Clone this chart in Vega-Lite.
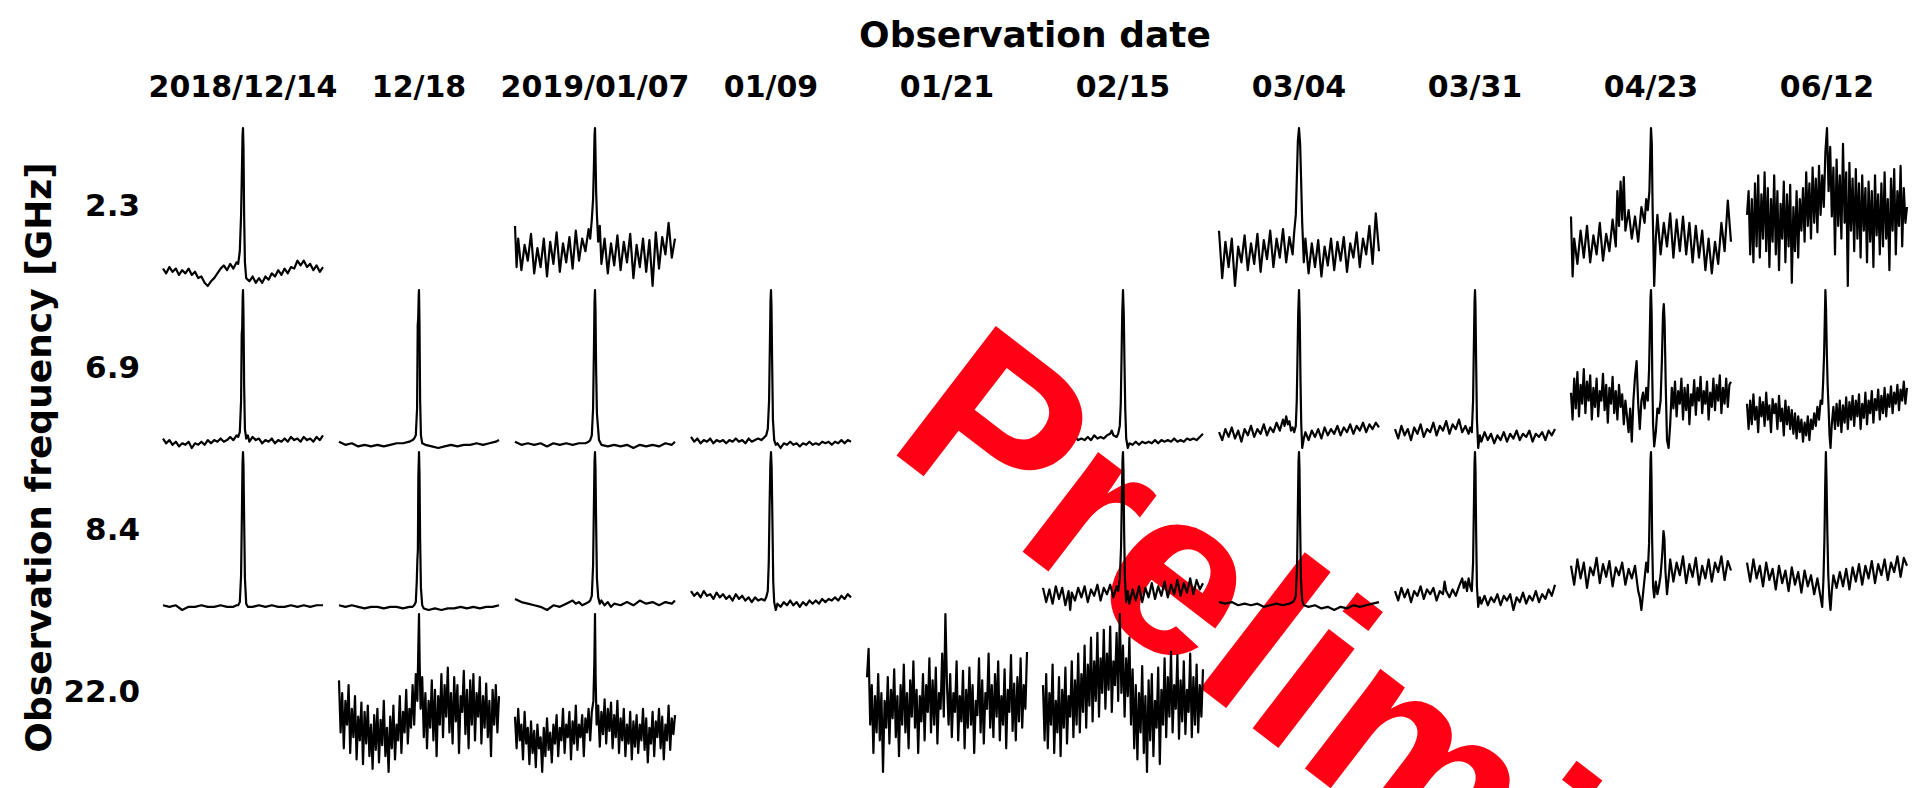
{
"$schema":"https://vega.github.io/schema/vega-lite/v6.json",
"padding":{"left":21,"top":18,"right":0,"bottom":0},
"background":"white",
"bounds":"flush",
"config":{"view":{"stroke":null}},
"spacing":{"row":4,"column":16},
"data":{"values":[
{"c":5,"r":1,"x":-99.3,"y":1.5,"t":"Preliminary"},
{"c":0,"r":0,"x":0,"y":11},{"c":0,"r":0,"x":2,"y":8},{"c":0,"r":0,"x":4,"y":12},{"c":0,"r":0,"x":6,"y":9},{"c":0,"r":0,"x":8,"y":11},{"c":0,"r":0,"x":10,"y":7},{"c":0,"r":0,"x":12,"y":10},{"c":0,"r":0,"x":14,"y":8},{"c":0,"r":0,"x":16,"y":11},{"c":0,"r":0,"x":18,"y":7},{"c":0,"r":0,"x":20,"y":9},{"c":0,"r":0,"x":22,"y":5},{"c":0,"r":0,"x":24,"y":6},{"c":0,"r":0,"x":26,"y":2},{"c":0,"r":0,"x":28,"y":0},{"c":0,"r":0,"x":30,"y":3},{"c":0,"r":0,"x":32,"y":5},{"c":0,"r":0,"x":34,"y":8},{"c":0,"r":0,"x":36,"y":11},{"c":0,"r":0,"x":38,"y":13},{"c":0,"r":0,"x":40,"y":10},{"c":0,"r":0,"x":42,"y":14},{"c":0,"r":0,"x":44,"y":11},{"c":0,"r":0,"x":46,"y":15},{"c":0,"r":0,"x":47,"y":14},{"c":0,"r":0,"x":48,"y":22},{"c":0,"r":0,"x":48.8,"y":45},{"c":0,"r":0,"x":49.3,"y":72},{"c":0,"r":0,"x":49.7,"y":95},{"c":0,"r":0,"x":50,"y":100},{"c":0,"r":0,"x":50.3,"y":88},{"c":0,"r":0,"x":50.7,"y":45},{"c":0,"r":0,"x":51.2,"y":15},{"c":0,"r":0,"x":52,"y":5},{"c":0,"r":0,"x":54,"y":3},{"c":0,"r":0,"x":56,"y":6},{"c":0,"r":0,"x":58,"y":2},{"c":0,"r":0,"x":60,"y":5},{"c":0,"r":0,"x":62,"y":2},{"c":0,"r":0,"x":64,"y":6},{"c":0,"r":0,"x":66,"y":4},{"c":0,"r":0,"x":68,"y":8},{"c":0,"r":0,"x":70,"y":6},{"c":0,"r":0,"x":72,"y":10},{"c":0,"r":0,"x":74,"y":7},{"c":0,"r":0,"x":76,"y":11},{"c":0,"r":0,"x":78,"y":8},{"c":0,"r":0,"x":80,"y":12},{"c":0,"r":0,"x":82,"y":11},{"c":0,"r":0,"x":84,"y":16},{"c":0,"r":0,"x":86,"y":13},{"c":0,"r":0,"x":88,"y":16},{"c":0,"r":0,"x":90,"y":12},{"c":0,"r":0,"x":92,"y":14},{"c":0,"r":0,"x":94,"y":10},{"c":0,"r":0,"x":96,"y":13},{"c":0,"r":0,"x":98,"y":9},{"c":0,"r":0,"x":100,"y":12},
{"c":2,"r":0,"x":0,"y":38},{"c":2,"r":0,"x":1,"y":12},{"c":2,"r":0,"x":2,"y":30},{"c":2,"r":0,"x":4,"y":10},{"c":2,"r":0,"x":6,"y":26},{"c":2,"r":0,"x":8,"y":16},{"c":2,"r":0,"x":10,"y":33},{"c":2,"r":0,"x":12,"y":8},{"c":2,"r":0,"x":14,"y":24},{"c":2,"r":0,"x":16,"y":12},{"c":2,"r":0,"x":18,"y":30},{"c":2,"r":0,"x":20,"y":6},{"c":2,"r":0,"x":22,"y":28},{"c":2,"r":0,"x":24,"y":14},{"c":2,"r":0,"x":26,"y":34},{"c":2,"r":0,"x":28,"y":9},{"c":2,"r":0,"x":30,"y":27},{"c":2,"r":0,"x":32,"y":15},{"c":2,"r":0,"x":34,"y":31},{"c":2,"r":0,"x":36,"y":11},{"c":2,"r":0,"x":38,"y":35},{"c":2,"r":0,"x":40,"y":16},{"c":2,"r":0,"x":42,"y":30},{"c":2,"r":0,"x":44,"y":22},{"c":2,"r":0,"x":46,"y":36},{"c":2,"r":0,"x":47,"y":30},{"c":2,"r":0,"x":48,"y":42},{"c":2,"r":0,"x":48.8,"y":55},{"c":2,"r":0,"x":49.3,"y":75},{"c":2,"r":0,"x":49.7,"y":95},{"c":2,"r":0,"x":50,"y":100},{"c":2,"r":0,"x":50.3,"y":85},{"c":2,"r":0,"x":50.7,"y":60},{"c":2,"r":0,"x":51.2,"y":45},{"c":2,"r":0,"x":52,"y":28},{"c":2,"r":0,"x":53,"y":38},{"c":2,"r":0,"x":54,"y":14},{"c":2,"r":0,"x":56,"y":30},{"c":2,"r":0,"x":58,"y":8},{"c":2,"r":0,"x":60,"y":27},{"c":2,"r":0,"x":62,"y":13},{"c":2,"r":0,"x":64,"y":32},{"c":2,"r":0,"x":66,"y":10},{"c":2,"r":0,"x":68,"y":28},{"c":2,"r":0,"x":70,"y":15},{"c":2,"r":0,"x":72,"y":33},{"c":2,"r":0,"x":74,"y":5},{"c":2,"r":0,"x":76,"y":26},{"c":2,"r":0,"x":78,"y":12},{"c":2,"r":0,"x":80,"y":30},{"c":2,"r":0,"x":82,"y":9},{"c":2,"r":0,"x":84,"y":29},{"c":2,"r":0,"x":86,"y":0},{"c":2,"r":0,"x":88,"y":34},{"c":2,"r":0,"x":90,"y":11},{"c":2,"r":0,"x":92,"y":31},{"c":2,"r":0,"x":94,"y":20},{"c":2,"r":0,"x":96,"y":40},{"c":2,"r":0,"x":98,"y":18},{"c":2,"r":0,"x":100,"y":30},
{"c":6,"r":0,"x":0,"y":35},{"c":6,"r":0,"x":2,"y":5},{"c":6,"r":0,"x":4,"y":28},{"c":6,"r":0,"x":6,"y":12},{"c":6,"r":0,"x":8,"y":30},{"c":6,"r":0,"x":10,"y":0},{"c":6,"r":0,"x":12,"y":25},{"c":6,"r":0,"x":14,"y":15},{"c":6,"r":0,"x":16,"y":32},{"c":6,"r":0,"x":18,"y":10},{"c":6,"r":0,"x":20,"y":27},{"c":6,"r":0,"x":22,"y":14},{"c":6,"r":0,"x":24,"y":33},{"c":6,"r":0,"x":26,"y":9},{"c":6,"r":0,"x":28,"y":29},{"c":6,"r":0,"x":30,"y":17},{"c":6,"r":0,"x":32,"y":35},{"c":6,"r":0,"x":34,"y":12},{"c":6,"r":0,"x":36,"y":30},{"c":6,"r":0,"x":38,"y":18},{"c":6,"r":0,"x":40,"y":36},{"c":6,"r":0,"x":42,"y":15},{"c":6,"r":0,"x":44,"y":31},{"c":6,"r":0,"x":46,"y":20},{"c":6,"r":0,"x":47,"y":34},{"c":6,"r":0,"x":48,"y":45},{"c":6,"r":0,"x":48.7,"y":70},{"c":6,"r":0,"x":49.3,"y":92},{"c":6,"r":0,"x":50,"y":100},{"c":6,"r":0,"x":50.7,"y":90},{"c":6,"r":0,"x":51.3,"y":68},{"c":6,"r":0,"x":52,"y":40},{"c":6,"r":0,"x":53,"y":15},{"c":6,"r":0,"x":54,"y":30},{"c":6,"r":0,"x":56,"y":8},{"c":6,"r":0,"x":58,"y":27},{"c":6,"r":0,"x":60,"y":12},{"c":6,"r":0,"x":62,"y":29},{"c":6,"r":0,"x":64,"y":6},{"c":6,"r":0,"x":66,"y":25},{"c":6,"r":0,"x":68,"y":13},{"c":6,"r":0,"x":70,"y":30},{"c":6,"r":0,"x":72,"y":10},{"c":6,"r":0,"x":74,"y":28},{"c":6,"r":0,"x":76,"y":16},{"c":6,"r":0,"x":78,"y":31},{"c":6,"r":0,"x":80,"y":9},{"c":6,"r":0,"x":82,"y":27},{"c":6,"r":0,"x":84,"y":18},{"c":6,"r":0,"x":86,"y":34},{"c":6,"r":0,"x":88,"y":12},{"c":6,"r":0,"x":90,"y":30},{"c":6,"r":0,"x":92,"y":20},{"c":6,"r":0,"x":94,"y":38},{"c":6,"r":0,"x":96,"y":14},{"c":6,"r":0,"x":98,"y":46},{"c":6,"r":0,"x":100,"y":22},
{"c":8,"r":0,"x":0,"y":44},{"c":8,"r":0,"x":1,"y":6},{"c":8,"r":0,"x":2,"y":30},{"c":8,"r":0,"x":4,"y":14},{"c":8,"r":0,"x":6,"y":35},{"c":8,"r":0,"x":8,"y":18},{"c":8,"r":0,"x":10,"y":38},{"c":8,"r":0,"x":12,"y":15},{"c":8,"r":0,"x":14,"y":32},{"c":8,"r":0,"x":16,"y":20},{"c":8,"r":0,"x":18,"y":40},{"c":8,"r":0,"x":20,"y":16},{"c":8,"r":0,"x":22,"y":33},{"c":8,"r":0,"x":24,"y":22},{"c":8,"r":0,"x":26,"y":42},{"c":8,"r":0,"x":28,"y":25},{"c":8,"r":0,"x":29,"y":60},{"c":8,"r":0,"x":30,"y":38},{"c":8,"r":0,"x":31,"y":66},{"c":8,"r":0,"x":32,"y":42},{"c":8,"r":0,"x":33,"y":69},{"c":8,"r":0,"x":34,"y":35},{"c":8,"r":0,"x":36,"y":48},{"c":8,"r":0,"x":38,"y":30},{"c":8,"r":0,"x":40,"y":44},{"c":8,"r":0,"x":42,"y":28},{"c":8,"r":0,"x":44,"y":50},{"c":8,"r":0,"x":46,"y":40},{"c":8,"r":0,"x":47,"y":55},{"c":8,"r":0,"x":48,"y":48},{"c":8,"r":0,"x":49,"y":60},{"c":8,"r":0,"x":49.6,"y":85},{"c":8,"r":0,"x":50,"y":100},{"c":8,"r":0,"x":50.5,"y":90},{"c":8,"r":0,"x":51,"y":50},{"c":8,"r":0,"x":51.5,"y":25},{"c":8,"r":0,"x":52,"y":0},{"c":8,"r":0,"x":53,"y":30},{"c":8,"r":0,"x":54,"y":45},{"c":8,"r":0,"x":56,"y":20},{"c":8,"r":0,"x":58,"y":40},{"c":8,"r":0,"x":60,"y":25},{"c":8,"r":0,"x":62,"y":46},{"c":8,"r":0,"x":64,"y":18},{"c":8,"r":0,"x":66,"y":42},{"c":8,"r":0,"x":68,"y":22},{"c":8,"r":0,"x":70,"y":44},{"c":8,"r":0,"x":72,"y":20},{"c":8,"r":0,"x":74,"y":40},{"c":8,"r":0,"x":76,"y":15},{"c":8,"r":0,"x":78,"y":38},{"c":8,"r":0,"x":80,"y":18},{"c":8,"r":0,"x":82,"y":35},{"c":8,"r":0,"x":84,"y":10},{"c":8,"r":0,"x":86,"y":30},{"c":8,"r":0,"x":88,"y":8},{"c":8,"r":0,"x":90,"y":28},{"c":8,"r":0,"x":92,"y":14},{"c":8,"r":0,"x":94,"y":40},{"c":8,"r":0,"x":96,"y":22},{"c":8,"r":0,"x":98,"y":54},{"c":8,"r":0,"x":100,"y":28},
{"c":9,"r":0,"x":0,"y":45},{"c":9,"r":0,"x":1,"y":60},{"c":9,"r":0,"x":2,"y":20},{"c":9,"r":0,"x":3,"y":55},{"c":9,"r":0,"x":4,"y":15},{"c":9,"r":0,"x":5,"y":65},{"c":9,"r":0,"x":6,"y":25},{"c":9,"r":0,"x":7,"y":70},{"c":9,"r":0,"x":8,"y":18},{"c":9,"r":0,"x":9,"y":58},{"c":9,"r":0,"x":10,"y":30},{"c":9,"r":0,"x":11,"y":72},{"c":9,"r":0,"x":12,"y":22},{"c":9,"r":0,"x":13,"y":62},{"c":9,"r":0,"x":14,"y":12},{"c":9,"r":0,"x":15,"y":55},{"c":9,"r":0,"x":16,"y":28},{"c":9,"r":0,"x":17,"y":70},{"c":9,"r":0,"x":18,"y":20},{"c":9,"r":0,"x":19,"y":60},{"c":9,"r":0,"x":20,"y":10},{"c":9,"r":0,"x":21,"y":52},{"c":9,"r":0,"x":22,"y":30},{"c":9,"r":0,"x":23,"y":66},{"c":9,"r":0,"x":24,"y":15},{"c":9,"r":0,"x":25,"y":58},{"c":9,"r":0,"x":26,"y":25},{"c":9,"r":0,"x":27,"y":64},{"c":9,"r":0,"x":28,"y":2},{"c":9,"r":0,"x":29,"y":50},{"c":9,"r":0,"x":30,"y":22},{"c":9,"r":0,"x":31,"y":60},{"c":9,"r":0,"x":32,"y":18},{"c":9,"r":0,"x":33,"y":55},{"c":9,"r":0,"x":34,"y":35},{"c":9,"r":0,"x":35,"y":62},{"c":9,"r":0,"x":36,"y":28},{"c":9,"r":0,"x":37,"y":72},{"c":9,"r":0,"x":38,"y":38},{"c":9,"r":0,"x":39,"y":65},{"c":9,"r":0,"x":40,"y":30},{"c":9,"r":0,"x":41,"y":75},{"c":9,"r":0,"x":42,"y":40},{"c":9,"r":0,"x":43,"y":68},{"c":9,"r":0,"x":44,"y":34},{"c":9,"r":0,"x":45,"y":76},{"c":9,"r":0,"x":46,"y":45},{"c":9,"r":0,"x":47,"y":70},{"c":9,"r":0,"x":48,"y":50},{"c":9,"r":0,"x":49,"y":85},{"c":9,"r":0,"x":50,"y":100},{"c":9,"r":0,"x":51,"y":60},{"c":9,"r":0,"x":52,"y":88},{"c":9,"r":0,"x":53,"y":44},{"c":9,"r":0,"x":54,"y":75},{"c":9,"r":0,"x":55,"y":20},{"c":9,"r":0,"x":56,"y":80},{"c":9,"r":0,"x":57,"y":38},{"c":9,"r":0,"x":58,"y":70},{"c":9,"r":0,"x":59,"y":30},{"c":9,"r":0,"x":60,"y":90},{"c":9,"r":0,"x":61,"y":40},{"c":9,"r":0,"x":62,"y":72},{"c":9,"r":0,"x":63,"y":0},{"c":9,"r":0,"x":64,"y":78},{"c":9,"r":0,"x":65,"y":35},{"c":9,"r":0,"x":66,"y":68},{"c":9,"r":0,"x":67,"y":22},{"c":9,"r":0,"x":68,"y":74},{"c":9,"r":0,"x":69,"y":30},{"c":9,"r":0,"x":70,"y":65},{"c":9,"r":0,"x":71,"y":18},{"c":9,"r":0,"x":72,"y":70},{"c":9,"r":0,"x":73,"y":35},{"c":9,"r":0,"x":74,"y":62},{"c":9,"r":0,"x":75,"y":15},{"c":9,"r":0,"x":76,"y":66},{"c":9,"r":0,"x":77,"y":28},{"c":9,"r":0,"x":78,"y":60},{"c":9,"r":0,"x":79,"y":12},{"c":9,"r":0,"x":80,"y":70},{"c":9,"r":0,"x":81,"y":32},{"c":9,"r":0,"x":82,"y":58},{"c":9,"r":0,"x":83,"y":20},{"c":9,"r":0,"x":84,"y":65},{"c":9,"r":0,"x":85,"y":25},{"c":9,"r":0,"x":86,"y":72},{"c":9,"r":0,"x":87,"y":30},{"c":9,"r":0,"x":88,"y":55},{"c":9,"r":0,"x":89,"y":10},{"c":9,"r":0,"x":90,"y":68},{"c":9,"r":0,"x":91,"y":35},{"c":9,"r":0,"x":92,"y":74},{"c":9,"r":0,"x":93,"y":20},{"c":9,"r":0,"x":94,"y":60},{"c":9,"r":0,"x":95,"y":38},{"c":9,"r":0,"x":96,"y":76},{"c":9,"r":0,"x":97,"y":25},{"c":9,"r":0,"x":98,"y":62},{"c":9,"r":0,"x":99,"y":40},{"c":9,"r":0,"x":100,"y":50},
{"c":0,"r":1,"x":0,"y":6},{"c":0,"r":1,"x":2,"y":3},{"c":0,"r":1,"x":4,"y":5},{"c":0,"r":1,"x":6,"y":2},{"c":0,"r":1,"x":8,"y":4},{"c":0,"r":1,"x":10,"y":1},{"c":0,"r":1,"x":12,"y":3},{"c":0,"r":1,"x":14,"y":2},{"c":0,"r":1,"x":16,"y":4},{"c":0,"r":1,"x":18,"y":0},{"c":0,"r":1,"x":20,"y":3},{"c":0,"r":1,"x":22,"y":2},{"c":0,"r":1,"x":24,"y":4},{"c":0,"r":1,"x":26,"y":2},{"c":0,"r":1,"x":28,"y":5},{"c":0,"r":1,"x":30,"y":3},{"c":0,"r":1,"x":32,"y":5},{"c":0,"r":1,"x":34,"y":4},{"c":0,"r":1,"x":36,"y":6},{"c":0,"r":1,"x":38,"y":4},{"c":0,"r":1,"x":40,"y":5},{"c":0,"r":1,"x":42,"y":7},{"c":0,"r":1,"x":44,"y":5},{"c":0,"r":1,"x":46,"y":8},{"c":0,"r":1,"x":47,"y":7},{"c":0,"r":1,"x":48,"y":10},{"c":0,"r":1,"x":48.8,"y":30},{"c":0,"r":1,"x":49.2,"y":72},{"c":0,"r":1,"x":49.5,"y":76},{"c":0,"r":1,"x":49.8,"y":95},{"c":0,"r":1,"x":50,"y":100},{"c":0,"r":1,"x":50.3,"y":85},{"c":0,"r":1,"x":50.7,"y":40},{"c":0,"r":1,"x":51.2,"y":12},{"c":0,"r":1,"x":52,"y":6},{"c":0,"r":1,"x":53,"y":8},{"c":0,"r":1,"x":54,"y":4},{"c":0,"r":1,"x":56,"y":7},{"c":0,"r":1,"x":58,"y":5},{"c":0,"r":1,"x":60,"y":6},{"c":0,"r":1,"x":62,"y":3},{"c":0,"r":1,"x":64,"y":5},{"c":0,"r":1,"x":66,"y":4},{"c":0,"r":1,"x":68,"y":6},{"c":0,"r":1,"x":70,"y":3},{"c":0,"r":1,"x":72,"y":5},{"c":0,"r":1,"x":74,"y":4},{"c":0,"r":1,"x":76,"y":6},{"c":0,"r":1,"x":78,"y":4},{"c":0,"r":1,"x":80,"y":7},{"c":0,"r":1,"x":82,"y":5},{"c":0,"r":1,"x":84,"y":6},{"c":0,"r":1,"x":86,"y":4},{"c":0,"r":1,"x":88,"y":7},{"c":0,"r":1,"x":90,"y":5},{"c":0,"r":1,"x":92,"y":6},{"c":0,"r":1,"x":94,"y":4},{"c":0,"r":1,"x":96,"y":7},{"c":0,"r":1,"x":98,"y":5},{"c":0,"r":1,"x":100,"y":8},
{"c":1,"r":1,"x":0,"y":4},{"c":1,"r":1,"x":4,"y":2},{"c":1,"r":1,"x":8,"y":3},{"c":1,"r":1,"x":12,"y":1},{"c":1,"r":1,"x":16,"y":2},{"c":1,"r":1,"x":20,"y":1},{"c":1,"r":1,"x":24,"y":2},{"c":1,"r":1,"x":28,"y":1},{"c":1,"r":1,"x":32,"y":2},{"c":1,"r":1,"x":36,"y":3},{"c":1,"r":1,"x":40,"y":3},{"c":1,"r":1,"x":44,"y":4},{"c":1,"r":1,"x":46,"y":5},{"c":1,"r":1,"x":47,"y":6},{"c":1,"r":1,"x":48,"y":8},{"c":1,"r":1,"x":48.8,"y":25},{"c":1,"r":1,"x":49.2,"y":78},{"c":1,"r":1,"x":49.5,"y":82},{"c":1,"r":1,"x":49.8,"y":96},{"c":1,"r":1,"x":50,"y":100},{"c":1,"r":1,"x":50.3,"y":80},{"c":1,"r":1,"x":50.7,"y":30},{"c":1,"r":1,"x":51.2,"y":8},{"c":1,"r":1,"x":52,"y":3},{"c":1,"r":1,"x":54,"y":2},{"c":1,"r":1,"x":58,"y":1},{"c":1,"r":1,"x":62,"y":0},{"c":1,"r":1,"x":66,"y":1},{"c":1,"r":1,"x":70,"y":2},{"c":1,"r":1,"x":74,"y":1},{"c":1,"r":1,"x":78,"y":2},{"c":1,"r":1,"x":82,"y":2},{"c":1,"r":1,"x":86,"y":3},{"c":1,"r":1,"x":90,"y":2},{"c":1,"r":1,"x":94,"y":3},{"c":1,"r":1,"x":98,"y":4},{"c":1,"r":1,"x":100,"y":5},
{"c":2,"r":1,"x":0,"y":4},{"c":2,"r":1,"x":4,"y":2},{"c":2,"r":1,"x":8,"y":3},{"c":2,"r":1,"x":12,"y":2},{"c":2,"r":1,"x":16,"y":3},{"c":2,"r":1,"x":20,"y":1},{"c":2,"r":1,"x":24,"y":3},{"c":2,"r":1,"x":28,"y":2},{"c":2,"r":1,"x":32,"y":3},{"c":2,"r":1,"x":36,"y":2},{"c":2,"r":1,"x":40,"y":3},{"c":2,"r":1,"x":44,"y":3},{"c":2,"r":1,"x":46,"y":4},{"c":2,"r":1,"x":47,"y":5},{"c":2,"r":1,"x":48,"y":8},{"c":2,"r":1,"x":48.8,"y":25},{"c":2,"r":1,"x":49.3,"y":60},{"c":2,"r":1,"x":49.7,"y":92},{"c":2,"r":1,"x":50,"y":100},{"c":2,"r":1,"x":50.3,"y":88},{"c":2,"r":1,"x":50.7,"y":50},{"c":2,"r":1,"x":51.2,"y":22},{"c":2,"r":1,"x":51.8,"y":14},{"c":2,"r":1,"x":52.5,"y":5},{"c":2,"r":1,"x":54,"y":2},{"c":2,"r":1,"x":58,"y":1},{"c":2,"r":1,"x":62,"y":2},{"c":2,"r":1,"x":66,"y":1},{"c":2,"r":1,"x":70,"y":2},{"c":2,"r":1,"x":74,"y":0},{"c":2,"r":1,"x":78,"y":2},{"c":2,"r":1,"x":82,"y":1},{"c":2,"r":1,"x":86,"y":2},{"c":2,"r":1,"x":90,"y":1},{"c":2,"r":1,"x":94,"y":3},{"c":2,"r":1,"x":98,"y":2},{"c":2,"r":1,"x":100,"y":4},
{"c":3,"r":1,"x":0,"y":7},{"c":3,"r":1,"x":2,"y":4},{"c":3,"r":1,"x":4,"y":6},{"c":3,"r":1,"x":6,"y":3},{"c":3,"r":1,"x":8,"y":5},{"c":3,"r":1,"x":10,"y":4},{"c":3,"r":1,"x":12,"y":6},{"c":3,"r":1,"x":14,"y":3},{"c":3,"r":1,"x":16,"y":5},{"c":3,"r":1,"x":18,"y":4},{"c":3,"r":1,"x":20,"y":5},{"c":3,"r":1,"x":22,"y":3},{"c":3,"r":1,"x":24,"y":5},{"c":3,"r":1,"x":26,"y":4},{"c":3,"r":1,"x":28,"y":6},{"c":3,"r":1,"x":30,"y":4},{"c":3,"r":1,"x":32,"y":5},{"c":3,"r":1,"x":34,"y":3},{"c":3,"r":1,"x":36,"y":6},{"c":3,"r":1,"x":38,"y":4},{"c":3,"r":1,"x":40,"y":5},{"c":3,"r":1,"x":42,"y":6},{"c":3,"r":1,"x":44,"y":5},{"c":3,"r":1,"x":46,"y":7},{"c":3,"r":1,"x":47,"y":8},{"c":3,"r":1,"x":48,"y":12},{"c":3,"r":1,"x":48.8,"y":30},{"c":3,"r":1,"x":49.3,"y":65},{"c":3,"r":1,"x":49.7,"y":93},{"c":3,"r":1,"x":50,"y":100},{"c":3,"r":1,"x":50.3,"y":90},{"c":3,"r":1,"x":50.7,"y":55},{"c":3,"r":1,"x":51.2,"y":18},{"c":3,"r":1,"x":52,"y":5},{"c":3,"r":1,"x":53,"y":2},{"c":3,"r":1,"x":54,"y":3},{"c":3,"r":1,"x":56,"y":0},{"c":3,"r":1,"x":58,"y":3},{"c":3,"r":1,"x":60,"y":2},{"c":3,"r":1,"x":62,"y":4},{"c":3,"r":1,"x":64,"y":2},{"c":3,"r":1,"x":66,"y":3},{"c":3,"r":1,"x":68,"y":1},{"c":3,"r":1,"x":70,"y":3},{"c":3,"r":1,"x":72,"y":2},{"c":3,"r":1,"x":74,"y":4},{"c":3,"r":1,"x":76,"y":2},{"c":3,"r":1,"x":78,"y":3},{"c":3,"r":1,"x":80,"y":2},{"c":3,"r":1,"x":82,"y":4},{"c":3,"r":1,"x":84,"y":3},{"c":3,"r":1,"x":86,"y":4},{"c":3,"r":1,"x":88,"y":2},{"c":3,"r":1,"x":90,"y":4},{"c":3,"r":1,"x":92,"y":3},{"c":3,"r":1,"x":94,"y":5},{"c":3,"r":1,"x":96,"y":3},{"c":3,"r":1,"x":98,"y":5},{"c":3,"r":1,"x":100,"y":4},
{"c":5,"r":1,"x":0,"y":6},{"c":5,"r":1,"x":2,"y":4},{"c":5,"r":1,"x":4,"y":7},{"c":5,"r":1,"x":6,"y":5},{"c":5,"r":1,"x":8,"y":6},{"c":5,"r":1,"x":10,"y":4},{"c":5,"r":1,"x":12,"y":7},{"c":5,"r":1,"x":14,"y":5},{"c":5,"r":1,"x":16,"y":6},{"c":5,"r":1,"x":18,"y":4},{"c":5,"r":1,"x":20,"y":7},{"c":5,"r":1,"x":22,"y":5},{"c":5,"r":1,"x":24,"y":6},{"c":5,"r":1,"x":26,"y":5},{"c":5,"r":1,"x":28,"y":7},{"c":5,"r":1,"x":30,"y":5},{"c":5,"r":1,"x":32,"y":8},{"c":5,"r":1,"x":34,"y":6},{"c":5,"r":1,"x":36,"y":7},{"c":5,"r":1,"x":38,"y":6},{"c":5,"r":1,"x":40,"y":8},{"c":5,"r":1,"x":42,"y":9},{"c":5,"r":1,"x":43,"y":11},{"c":5,"r":1,"x":44,"y":8},{"c":5,"r":1,"x":46,"y":7},{"c":5,"r":1,"x":47,"y":9},{"c":5,"r":1,"x":48,"y":14},{"c":5,"r":1,"x":48.6,"y":28},{"c":5,"r":1,"x":49.1,"y":58},{"c":5,"r":1,"x":49.5,"y":84},{"c":5,"r":1,"x":50,"y":100},{"c":5,"r":1,"x":50.5,"y":84},{"c":5,"r":1,"x":50.9,"y":55},{"c":5,"r":1,"x":51.4,"y":25},{"c":5,"r":1,"x":52,"y":6},{"c":5,"r":1,"x":53,"y":0},{"c":5,"r":1,"x":54,"y":3},{"c":5,"r":1,"x":56,"y":2},{"c":5,"r":1,"x":58,"y":4},{"c":5,"r":1,"x":60,"y":2},{"c":5,"r":1,"x":62,"y":4},{"c":5,"r":1,"x":64,"y":3},{"c":5,"r":1,"x":66,"y":4},{"c":5,"r":1,"x":68,"y":3},{"c":5,"r":1,"x":70,"y":5},{"c":5,"r":1,"x":72,"y":3},{"c":5,"r":1,"x":74,"y":5},{"c":5,"r":1,"x":76,"y":4},{"c":5,"r":1,"x":78,"y":5},{"c":5,"r":1,"x":80,"y":4},{"c":5,"r":1,"x":82,"y":6},{"c":5,"r":1,"x":84,"y":4},{"c":5,"r":1,"x":86,"y":5},{"c":5,"r":1,"x":88,"y":4},{"c":5,"r":1,"x":90,"y":6},{"c":5,"r":1,"x":92,"y":5},{"c":5,"r":1,"x":94,"y":6},{"c":5,"r":1,"x":96,"y":5},{"c":5,"r":1,"x":98,"y":7},{"c":5,"r":1,"x":100,"y":9},
{"c":6,"r":1,"x":0,"y":10},{"c":6,"r":1,"x":2,"y":5},{"c":6,"r":1,"x":4,"y":12},{"c":6,"r":1,"x":6,"y":7},{"c":6,"r":1,"x":8,"y":13},{"c":6,"r":1,"x":10,"y":6},{"c":6,"r":1,"x":12,"y":11},{"c":6,"r":1,"x":14,"y":4},{"c":6,"r":1,"x":16,"y":12},{"c":6,"r":1,"x":18,"y":8},{"c":6,"r":1,"x":20,"y":14},{"c":6,"r":1,"x":22,"y":7},{"c":6,"r":1,"x":24,"y":12},{"c":6,"r":1,"x":26,"y":9},{"c":6,"r":1,"x":28,"y":15},{"c":6,"r":1,"x":30,"y":8},{"c":6,"r":1,"x":32,"y":13},{"c":6,"r":1,"x":34,"y":10},{"c":6,"r":1,"x":36,"y":16},{"c":6,"r":1,"x":38,"y":11},{"c":6,"r":1,"x":40,"y":18},{"c":6,"r":1,"x":41,"y":14},{"c":6,"r":1,"x":42,"y":20},{"c":6,"r":1,"x":43,"y":15},{"c":6,"r":1,"x":44,"y":17},{"c":6,"r":1,"x":45,"y":11},{"c":6,"r":1,"x":46,"y":13},{"c":6,"r":1,"x":47,"y":10},{"c":6,"r":1,"x":48,"y":14},{"c":6,"r":1,"x":48.6,"y":30},{"c":6,"r":1,"x":49.1,"y":60},{"c":6,"r":1,"x":49.5,"y":85},{"c":6,"r":1,"x":50,"y":100},{"c":6,"r":1,"x":50.5,"y":80},{"c":6,"r":1,"x":50.9,"y":45},{"c":6,"r":1,"x":51.4,"y":15},{"c":6,"r":1,"x":52,"y":0},{"c":6,"r":1,"x":53,"y":6},{"c":6,"r":1,"x":54,"y":10},{"c":6,"r":1,"x":56,"y":5},{"c":6,"r":1,"x":58,"y":11},{"c":6,"r":1,"x":60,"y":7},{"c":6,"r":1,"x":62,"y":12},{"c":6,"r":1,"x":64,"y":6},{"c":6,"r":1,"x":66,"y":13},{"c":6,"r":1,"x":68,"y":8},{"c":6,"r":1,"x":70,"y":12},{"c":6,"r":1,"x":72,"y":9},{"c":6,"r":1,"x":74,"y":14},{"c":6,"r":1,"x":76,"y":8},{"c":6,"r":1,"x":78,"y":13},{"c":6,"r":1,"x":80,"y":10},{"c":6,"r":1,"x":82,"y":15},{"c":6,"r":1,"x":84,"y":9},{"c":6,"r":1,"x":86,"y":14},{"c":6,"r":1,"x":88,"y":11},{"c":6,"r":1,"x":90,"y":16},{"c":6,"r":1,"x":92,"y":10},{"c":6,"r":1,"x":94,"y":15},{"c":6,"r":1,"x":96,"y":12},{"c":6,"r":1,"x":98,"y":16},{"c":6,"r":1,"x":100,"y":13},
{"c":7,"r":1,"x":0,"y":12},{"c":7,"r":1,"x":2,"y":6},{"c":7,"r":1,"x":4,"y":14},{"c":7,"r":1,"x":6,"y":8},{"c":7,"r":1,"x":8,"y":12},{"c":7,"r":1,"x":10,"y":5},{"c":7,"r":1,"x":12,"y":13},{"c":7,"r":1,"x":14,"y":9},{"c":7,"r":1,"x":16,"y":15},{"c":7,"r":1,"x":18,"y":7},{"c":7,"r":1,"x":20,"y":12},{"c":7,"r":1,"x":22,"y":10},{"c":7,"r":1,"x":24,"y":16},{"c":7,"r":1,"x":26,"y":8},{"c":7,"r":1,"x":28,"y":14},{"c":7,"r":1,"x":30,"y":11},{"c":7,"r":1,"x":32,"y":17},{"c":7,"r":1,"x":34,"y":9},{"c":7,"r":1,"x":36,"y":15},{"c":7,"r":1,"x":38,"y":12},{"c":7,"r":1,"x":40,"y":18},{"c":7,"r":1,"x":42,"y":10},{"c":7,"r":1,"x":44,"y":14},{"c":7,"r":1,"x":46,"y":9},{"c":7,"r":1,"x":47,"y":13},{"c":7,"r":1,"x":48,"y":10},{"c":7,"r":1,"x":48.8,"y":30},{"c":7,"r":1,"x":49.3,"y":65},{"c":7,"r":1,"x":49.7,"y":92},{"c":7,"r":1,"x":50,"y":100},{"c":7,"r":1,"x":50.3,"y":90},{"c":7,"r":1,"x":50.7,"y":55},{"c":7,"r":1,"x":51.2,"y":18},{"c":7,"r":1,"x":52,"y":0},{"c":7,"r":1,"x":53,"y":8},{"c":7,"r":1,"x":54,"y":4},{"c":7,"r":1,"x":56,"y":10},{"c":7,"r":1,"x":58,"y":5},{"c":7,"r":1,"x":60,"y":9},{"c":7,"r":1,"x":62,"y":3},{"c":7,"r":1,"x":64,"y":8},{"c":7,"r":1,"x":66,"y":5},{"c":7,"r":1,"x":68,"y":10},{"c":7,"r":1,"x":70,"y":4},{"c":7,"r":1,"x":72,"y":9},{"c":7,"r":1,"x":74,"y":6},{"c":7,"r":1,"x":76,"y":11},{"c":7,"r":1,"x":78,"y":5},{"c":7,"r":1,"x":80,"y":9},{"c":7,"r":1,"x":82,"y":7},{"c":7,"r":1,"x":84,"y":11},{"c":7,"r":1,"x":86,"y":4},{"c":7,"r":1,"x":88,"y":9},{"c":7,"r":1,"x":90,"y":7},{"c":7,"r":1,"x":92,"y":10},{"c":7,"r":1,"x":94,"y":5},{"c":7,"r":1,"x":96,"y":11},{"c":7,"r":1,"x":98,"y":8},{"c":7,"r":1,"x":100,"y":12},
{"c":8,"r":1,"x":0,"y":35},{"c":8,"r":1,"x":1,"y":18},{"c":8,"r":1,"x":2,"y":44},{"c":8,"r":1,"x":3,"y":25},{"c":8,"r":1,"x":4,"y":48},{"c":8,"r":1,"x":5,"y":20},{"c":8,"r":1,"x":6,"y":40},{"c":8,"r":1,"x":7,"y":28},{"c":8,"r":1,"x":8,"y":50},{"c":8,"r":1,"x":9,"y":22},{"c":8,"r":1,"x":10,"y":42},{"c":8,"r":1,"x":11,"y":30},{"c":8,"r":1,"x":12,"y":46},{"c":8,"r":1,"x":13,"y":18},{"c":8,"r":1,"x":14,"y":38},{"c":8,"r":1,"x":15,"y":26},{"c":8,"r":1,"x":16,"y":44},{"c":8,"r":1,"x":17,"y":20},{"c":8,"r":1,"x":18,"y":36},{"c":8,"r":1,"x":19,"y":30},{"c":8,"r":1,"x":20,"y":47},{"c":8,"r":1,"x":21,"y":24},{"c":8,"r":1,"x":22,"y":40},{"c":8,"r":1,"x":23,"y":16},{"c":8,"r":1,"x":24,"y":38},{"c":8,"r":1,"x":25,"y":28},{"c":8,"r":1,"x":26,"y":45},{"c":8,"r":1,"x":27,"y":22},{"c":8,"r":1,"x":28,"y":36},{"c":8,"r":1,"x":29,"y":18},{"c":8,"r":1,"x":30,"y":40},{"c":8,"r":1,"x":31,"y":26},{"c":8,"r":1,"x":32,"y":34},{"c":8,"r":1,"x":33,"y":15},{"c":8,"r":1,"x":34,"y":30},{"c":8,"r":1,"x":35,"y":20},{"c":8,"r":1,"x":36,"y":10},{"c":8,"r":1,"x":37,"y":25},{"c":8,"r":1,"x":38,"y":4},{"c":8,"r":1,"x":39,"y":30},{"c":8,"r":1,"x":40,"y":45},{"c":8,"r":1,"x":41,"y":55},{"c":8,"r":1,"x":42,"y":28},{"c":8,"r":1,"x":43,"y":12},{"c":8,"r":1,"x":44,"y":30},{"c":8,"r":1,"x":45,"y":35},{"c":8,"r":1,"x":46,"y":25},{"c":8,"r":1,"x":47,"y":38},{"c":8,"r":1,"x":48,"y":30},{"c":8,"r":1,"x":48.8,"y":50},{"c":8,"r":1,"x":49.3,"y":75},{"c":8,"r":1,"x":49.7,"y":95},{"c":8,"r":1,"x":50,"y":100},{"c":8,"r":1,"x":50.4,"y":85},{"c":8,"r":1,"x":50.8,"y":45},{"c":8,"r":1,"x":51.3,"y":15},{"c":8,"r":1,"x":52,"y":1},{"c":8,"r":1,"x":53,"y":10},{"c":8,"r":1,"x":54,"y":25},{"c":8,"r":1,"x":55,"y":22},{"c":8,"r":1,"x":56,"y":30},{"c":8,"r":1,"x":56.8,"y":55},{"c":8,"r":1,"x":57.5,"y":85},{"c":8,"r":1,"x":58,"y":91},{"c":8,"r":1,"x":58.5,"y":80},{"c":8,"r":1,"x":59.2,"y":40},{"c":8,"r":1,"x":60,"y":5},{"c":8,"r":1,"x":61,"y":0},{"c":8,"r":1,"x":62,"y":15},{"c":8,"r":1,"x":63,"y":38},{"c":8,"r":1,"x":64,"y":25},{"c":8,"r":1,"x":65,"y":42},{"c":8,"r":1,"x":66,"y":20},{"c":8,"r":1,"x":67,"y":36},{"c":8,"r":1,"x":68,"y":28},{"c":8,"r":1,"x":69,"y":44},{"c":8,"r":1,"x":70,"y":18},{"c":8,"r":1,"x":71,"y":38},{"c":8,"r":1,"x":72,"y":24},{"c":8,"r":1,"x":73,"y":40},{"c":8,"r":1,"x":74,"y":15},{"c":8,"r":1,"x":75,"y":34},{"c":8,"r":1,"x":76,"y":27},{"c":8,"r":1,"x":77,"y":43},{"c":8,"r":1,"x":78,"y":21},{"c":8,"r":1,"x":79,"y":38},{"c":8,"r":1,"x":80,"y":30},{"c":8,"r":1,"x":81,"y":45},{"c":8,"r":1,"x":82,"y":22},{"c":8,"r":1,"x":83,"y":36},{"c":8,"r":1,"x":84,"y":28},{"c":8,"r":1,"x":85,"y":42},{"c":8,"r":1,"x":86,"y":18},{"c":8,"r":1,"x":87,"y":35},{"c":8,"r":1,"x":88,"y":26},{"c":8,"r":1,"x":89,"y":44},{"c":8,"r":1,"x":90,"y":24},{"c":8,"r":1,"x":91,"y":40},{"c":8,"r":1,"x":92,"y":30},{"c":8,"r":1,"x":93,"y":46},{"c":8,"r":1,"x":94,"y":22},{"c":8,"r":1,"x":95,"y":38},{"c":8,"r":1,"x":96,"y":28},{"c":8,"r":1,"x":97,"y":44},{"c":8,"r":1,"x":98,"y":26},{"c":8,"r":1,"x":99,"y":40},{"c":8,"r":1,"x":100,"y":42},
{"c":9,"r":1,"x":0,"y":28},{"c":9,"r":1,"x":1,"y":12},{"c":9,"r":1,"x":2,"y":30},{"c":9,"r":1,"x":3,"y":15},{"c":9,"r":1,"x":4,"y":34},{"c":9,"r":1,"x":5,"y":18},{"c":9,"r":1,"x":6,"y":26},{"c":9,"r":1,"x":7,"y":10},{"c":9,"r":1,"x":8,"y":32},{"c":9,"r":1,"x":9,"y":20},{"c":9,"r":1,"x":10,"y":29},{"c":9,"r":1,"x":11,"y":14},{"c":9,"r":1,"x":12,"y":35},{"c":9,"r":1,"x":13,"y":18},{"c":9,"r":1,"x":14,"y":27},{"c":9,"r":1,"x":15,"y":10},{"c":9,"r":1,"x":16,"y":31},{"c":9,"r":1,"x":17,"y":22},{"c":9,"r":1,"x":18,"y":28},{"c":9,"r":1,"x":19,"y":12},{"c":9,"r":1,"x":20,"y":33},{"c":9,"r":1,"x":21,"y":17},{"c":9,"r":1,"x":22,"y":25},{"c":9,"r":1,"x":23,"y":8},{"c":9,"r":1,"x":24,"y":30},{"c":9,"r":1,"x":25,"y":15},{"c":9,"r":1,"x":26,"y":26},{"c":9,"r":1,"x":27,"y":12},{"c":9,"r":1,"x":28,"y":24},{"c":9,"r":1,"x":29,"y":9},{"c":9,"r":1,"x":30,"y":22},{"c":9,"r":1,"x":31,"y":6},{"c":9,"r":1,"x":32,"y":20},{"c":9,"r":1,"x":33,"y":10},{"c":9,"r":1,"x":34,"y":18},{"c":9,"r":1,"x":35,"y":4},{"c":9,"r":1,"x":36,"y":16},{"c":9,"r":1,"x":37,"y":8},{"c":9,"r":1,"x":38,"y":20},{"c":9,"r":1,"x":39,"y":5},{"c":9,"r":1,"x":40,"y":18},{"c":9,"r":1,"x":41,"y":12},{"c":9,"r":1,"x":42,"y":22},{"c":9,"r":1,"x":43,"y":14},{"c":9,"r":1,"x":44,"y":26},{"c":9,"r":1,"x":45,"y":18},{"c":9,"r":1,"x":46,"y":30},{"c":9,"r":1,"x":47,"y":28},{"c":9,"r":1,"x":47.6,"y":42},{"c":9,"r":1,"x":48.2,"y":60},{"c":9,"r":1,"x":48.7,"y":85},{"c":9,"r":1,"x":49,"y":100},{"c":9,"r":1,"x":49.4,"y":88},{"c":9,"r":1,"x":49.9,"y":60},{"c":9,"r":1,"x":50.4,"y":40},{"c":9,"r":1,"x":51,"y":25},{"c":9,"r":1,"x":51.6,"y":8},{"c":9,"r":1,"x":52.2,"y":0},{"c":9,"r":1,"x":53,"y":15},{"c":9,"r":1,"x":54,"y":26},{"c":9,"r":1,"x":55,"y":12},{"c":9,"r":1,"x":56,"y":28},{"c":9,"r":1,"x":57,"y":14},{"c":9,"r":1,"x":58,"y":30},{"c":9,"r":1,"x":59,"y":10},{"c":9,"r":1,"x":60,"y":27},{"c":9,"r":1,"x":61,"y":16},{"c":9,"r":1,"x":62,"y":32},{"c":9,"r":1,"x":63,"y":12},{"c":9,"r":1,"x":64,"y":29},{"c":9,"r":1,"x":65,"y":18},{"c":9,"r":1,"x":66,"y":33},{"c":9,"r":1,"x":67,"y":14},{"c":9,"r":1,"x":68,"y":30},{"c":9,"r":1,"x":69,"y":20},{"c":9,"r":1,"x":70,"y":34},{"c":9,"r":1,"x":71,"y":12},{"c":9,"r":1,"x":72,"y":28},{"c":9,"r":1,"x":73,"y":19},{"c":9,"r":1,"x":74,"y":35},{"c":9,"r":1,"x":75,"y":15},{"c":9,"r":1,"x":76,"y":30},{"c":9,"r":1,"x":77,"y":22},{"c":9,"r":1,"x":78,"y":36},{"c":9,"r":1,"x":79,"y":16},{"c":9,"r":1,"x":80,"y":31},{"c":9,"r":1,"x":81,"y":24},{"c":9,"r":1,"x":82,"y":37},{"c":9,"r":1,"x":83,"y":18},{"c":9,"r":1,"x":84,"y":33},{"c":9,"r":1,"x":85,"y":22},{"c":9,"r":1,"x":86,"y":38},{"c":9,"r":1,"x":87,"y":20},{"c":9,"r":1,"x":88,"y":34},{"c":9,"r":1,"x":89,"y":26},{"c":9,"r":1,"x":90,"y":39},{"c":9,"r":1,"x":91,"y":22},{"c":9,"r":1,"x":92,"y":35},{"c":9,"r":1,"x":93,"y":28},{"c":9,"r":1,"x":94,"y":40},{"c":9,"r":1,"x":95,"y":24},{"c":9,"r":1,"x":96,"y":37},{"c":9,"r":1,"x":97,"y":30},{"c":9,"r":1,"x":98,"y":42},{"c":9,"r":1,"x":99,"y":28},{"c":9,"r":1,"x":100,"y":38},
{"c":0,"r":2,"x":0,"y":3},{"c":0,"r":2,"x":4,"y":2},{"c":0,"r":2,"x":8,"y":3},{"c":0,"r":2,"x":12,"y":0},{"c":0,"r":2,"x":16,"y":2},{"c":0,"r":2,"x":20,"y":2},{"c":0,"r":2,"x":24,"y":3},{"c":0,"r":2,"x":28,"y":2},{"c":0,"r":2,"x":32,"y":2},{"c":0,"r":2,"x":36,"y":3},{"c":0,"r":2,"x":40,"y":2},{"c":0,"r":2,"x":44,"y":2},{"c":0,"r":2,"x":46,"y":3},{"c":0,"r":2,"x":47,"y":3},{"c":0,"r":2,"x":48,"y":5},{"c":0,"r":2,"x":48.8,"y":22},{"c":0,"r":2,"x":49.3,"y":60},{"c":0,"r":2,"x":49.7,"y":93},{"c":0,"r":2,"x":50,"y":100},{"c":0,"r":2,"x":50.3,"y":92},{"c":0,"r":2,"x":50.7,"y":58},{"c":0,"r":2,"x":51.2,"y":20},{"c":0,"r":2,"x":52,"y":4},{"c":0,"r":2,"x":53,"y":2},{"c":0,"r":2,"x":56,"y":2},{"c":0,"r":2,"x":60,"y":3},{"c":0,"r":2,"x":64,"y":2},{"c":0,"r":2,"x":68,"y":3},{"c":0,"r":2,"x":72,"y":2},{"c":0,"r":2,"x":76,"y":2},{"c":0,"r":2,"x":80,"y":3},{"c":0,"r":2,"x":84,"y":2},{"c":0,"r":2,"x":88,"y":3},{"c":0,"r":2,"x":92,"y":2},{"c":0,"r":2,"x":96,"y":3},{"c":0,"r":2,"x":100,"y":3},
{"c":1,"r":2,"x":0,"y":3},{"c":1,"r":2,"x":4,"y":2},{"c":1,"r":2,"x":8,"y":3},{"c":1,"r":2,"x":12,"y":2},{"c":1,"r":2,"x":16,"y":1},{"c":1,"r":2,"x":20,"y":2},{"c":1,"r":2,"x":24,"y":2},{"c":1,"r":2,"x":28,"y":1},{"c":1,"r":2,"x":32,"y":2},{"c":1,"r":2,"x":36,"y":2},{"c":1,"r":2,"x":40,"y":1},{"c":1,"r":2,"x":44,"y":2},{"c":1,"r":2,"x":46,"y":2},{"c":1,"r":2,"x":47,"y":3},{"c":1,"r":2,"x":48,"y":5},{"c":1,"r":2,"x":48.6,"y":18},{"c":1,"r":2,"x":49,"y":32},{"c":1,"r":2,"x":49.3,"y":38},{"c":1,"r":2,"x":49.6,"y":85},{"c":1,"r":2,"x":50,"y":100},{"c":1,"r":2,"x":50.3,"y":88},{"c":1,"r":2,"x":50.7,"y":45},{"c":1,"r":2,"x":51.2,"y":14},{"c":1,"r":2,"x":52,"y":3},{"c":1,"r":2,"x":53,"y":1},{"c":1,"r":2,"x":56,"y":0},{"c":1,"r":2,"x":60,"y":1},{"c":1,"r":2,"x":64,"y":0},{"c":1,"r":2,"x":68,"y":1},{"c":1,"r":2,"x":72,"y":1},{"c":1,"r":2,"x":76,"y":2},{"c":1,"r":2,"x":80,"y":1},{"c":1,"r":2,"x":84,"y":2},{"c":1,"r":2,"x":88,"y":1},{"c":1,"r":2,"x":92,"y":2},{"c":1,"r":2,"x":96,"y":2},{"c":1,"r":2,"x":100,"y":3},
{"c":2,"r":2,"x":0,"y":7},{"c":2,"r":2,"x":4,"y":5},{"c":2,"r":2,"x":8,"y":4},{"c":2,"r":2,"x":12,"y":3},{"c":2,"r":2,"x":16,"y":2},{"c":2,"r":2,"x":20,"y":0},{"c":2,"r":2,"x":24,"y":3},{"c":2,"r":2,"x":28,"y":2},{"c":2,"r":2,"x":32,"y":4},{"c":2,"r":2,"x":36,"y":6},{"c":2,"r":2,"x":38,"y":4},{"c":2,"r":2,"x":40,"y":5},{"c":2,"r":2,"x":42,"y":3},{"c":2,"r":2,"x":44,"y":4},{"c":2,"r":2,"x":46,"y":5},{"c":2,"r":2,"x":47,"y":6},{"c":2,"r":2,"x":48,"y":9},{"c":2,"r":2,"x":48.8,"y":28},{"c":2,"r":2,"x":49.3,"y":65},{"c":2,"r":2,"x":49.7,"y":94},{"c":2,"r":2,"x":50,"y":100},{"c":2,"r":2,"x":50.3,"y":90},{"c":2,"r":2,"x":50.7,"y":55},{"c":2,"r":2,"x":51.2,"y":20},{"c":2,"r":2,"x":52,"y":8},{"c":2,"r":2,"x":53,"y":4},{"c":2,"r":2,"x":54,"y":6},{"c":2,"r":2,"x":56,"y":3},{"c":2,"r":2,"x":58,"y":5},{"c":2,"r":2,"x":60,"y":2},{"c":2,"r":2,"x":62,"y":4},{"c":2,"r":2,"x":66,"y":3},{"c":2,"r":2,"x":70,"y":5},{"c":2,"r":2,"x":74,"y":3},{"c":2,"r":2,"x":78,"y":6},{"c":2,"r":2,"x":82,"y":4},{"c":2,"r":2,"x":86,"y":5},{"c":2,"r":2,"x":90,"y":3},{"c":2,"r":2,"x":94,"y":5},{"c":2,"r":2,"x":98,"y":4},{"c":2,"r":2,"x":100,"y":6},
{"c":3,"r":2,"x":0,"y":12},{"c":3,"r":2,"x":2,"y":9},{"c":3,"r":2,"x":4,"y":11},{"c":3,"r":2,"x":6,"y":8},{"c":3,"r":2,"x":8,"y":12},{"c":3,"r":2,"x":10,"y":9},{"c":3,"r":2,"x":12,"y":10},{"c":3,"r":2,"x":14,"y":7},{"c":3,"r":2,"x":16,"y":11},{"c":3,"r":2,"x":18,"y":8},{"c":3,"r":2,"x":20,"y":10},{"c":3,"r":2,"x":22,"y":7},{"c":3,"r":2,"x":24,"y":9},{"c":3,"r":2,"x":26,"y":6},{"c":3,"r":2,"x":28,"y":10},{"c":3,"r":2,"x":30,"y":7},{"c":3,"r":2,"x":32,"y":9},{"c":3,"r":2,"x":34,"y":6},{"c":3,"r":2,"x":36,"y":8},{"c":3,"r":2,"x":38,"y":5},{"c":3,"r":2,"x":40,"y":8},{"c":3,"r":2,"x":42,"y":6},{"c":3,"r":2,"x":44,"y":7},{"c":3,"r":2,"x":46,"y":6},{"c":3,"r":2,"x":47,"y":8},{"c":3,"r":2,"x":48,"y":12},{"c":3,"r":2,"x":48.6,"y":30},{"c":3,"r":2,"x":49.1,"y":65},{"c":3,"r":2,"x":49.6,"y":92},{"c":3,"r":2,"x":50,"y":100},{"c":3,"r":2,"x":50.4,"y":90},{"c":3,"r":2,"x":50.9,"y":55},{"c":3,"r":2,"x":51.4,"y":18},{"c":3,"r":2,"x":52,"y":5},{"c":3,"r":2,"x":53,"y":0},{"c":3,"r":2,"x":54,"y":4},{"c":3,"r":2,"x":56,"y":2},{"c":3,"r":2,"x":58,"y":5},{"c":3,"r":2,"x":60,"y":3},{"c":3,"r":2,"x":62,"y":6},{"c":3,"r":2,"x":64,"y":3},{"c":3,"r":2,"x":66,"y":5},{"c":3,"r":2,"x":68,"y":2},{"c":3,"r":2,"x":70,"y":5},{"c":3,"r":2,"x":72,"y":3},{"c":3,"r":2,"x":74,"y":6},{"c":3,"r":2,"x":76,"y":4},{"c":3,"r":2,"x":78,"y":6},{"c":3,"r":2,"x":80,"y":4},{"c":3,"r":2,"x":82,"y":7},{"c":3,"r":2,"x":84,"y":5},{"c":3,"r":2,"x":86,"y":7},{"c":3,"r":2,"x":88,"y":6},{"c":3,"r":2,"x":90,"y":8},{"c":3,"r":2,"x":92,"y":6},{"c":3,"r":2,"x":94,"y":9},{"c":3,"r":2,"x":96,"y":7},{"c":3,"r":2,"x":98,"y":10},{"c":3,"r":2,"x":100,"y":8},
{"c":5,"r":2,"x":0,"y":14},{"c":5,"r":2,"x":2,"y":5},{"c":5,"r":2,"x":4,"y":13},{"c":5,"r":2,"x":6,"y":4},{"c":5,"r":2,"x":8,"y":15},{"c":5,"r":2,"x":10,"y":7},{"c":5,"r":2,"x":12,"y":14},{"c":5,"r":2,"x":14,"y":3},{"c":5,"r":2,"x":16,"y":12},{"c":5,"r":2,"x":17,"y":0},{"c":5,"r":2,"x":18,"y":11},{"c":5,"r":2,"x":20,"y":6},{"c":5,"r":2,"x":22,"y":14},{"c":5,"r":2,"x":24,"y":8},{"c":5,"r":2,"x":26,"y":15},{"c":5,"r":2,"x":28,"y":5},{"c":5,"r":2,"x":30,"y":13},{"c":5,"r":2,"x":32,"y":9},{"c":5,"r":2,"x":34,"y":16},{"c":5,"r":2,"x":36,"y":6},{"c":5,"r":2,"x":38,"y":14},{"c":5,"r":2,"x":40,"y":10},{"c":5,"r":2,"x":42,"y":16},{"c":5,"r":2,"x":44,"y":8},{"c":5,"r":2,"x":46,"y":15},{"c":5,"r":2,"x":47,"y":12},{"c":5,"r":2,"x":48,"y":20},{"c":5,"r":2,"x":48.8,"y":40},{"c":5,"r":2,"x":49.3,"y":72},{"c":5,"r":2,"x":49.7,"y":95},{"c":5,"r":2,"x":50,"y":100},{"c":5,"r":2,"x":50.3,"y":88},{"c":5,"r":2,"x":50.7,"y":50},{"c":5,"r":2,"x":51.2,"y":20},{"c":5,"r":2,"x":52,"y":5},{"c":5,"r":2,"x":53,"y":12},{"c":5,"r":2,"x":54,"y":4},{"c":5,"r":2,"x":56,"y":13},{"c":5,"r":2,"x":58,"y":6},{"c":5,"r":2,"x":60,"y":15},{"c":5,"r":2,"x":62,"y":5},{"c":5,"r":2,"x":64,"y":14},{"c":5,"r":2,"x":66,"y":8},{"c":5,"r":2,"x":68,"y":17},{"c":5,"r":2,"x":70,"y":7},{"c":5,"r":2,"x":72,"y":15},{"c":5,"r":2,"x":74,"y":9},{"c":5,"r":2,"x":76,"y":18},{"c":5,"r":2,"x":78,"y":8},{"c":5,"r":2,"x":80,"y":16},{"c":5,"r":2,"x":82,"y":10},{"c":5,"r":2,"x":84,"y":19},{"c":5,"r":2,"x":86,"y":9},{"c":5,"r":2,"x":88,"y":17},{"c":5,"r":2,"x":90,"y":11},{"c":5,"r":2,"x":92,"y":20},{"c":5,"r":2,"x":94,"y":10},{"c":5,"r":2,"x":96,"y":19},{"c":5,"r":2,"x":98,"y":13},{"c":5,"r":2,"x":100,"y":17},
{"c":6,"r":2,"x":0,"y":5},{"c":6,"r":2,"x":4,"y":4},{"c":6,"r":2,"x":8,"y":5},{"c":6,"r":2,"x":12,"y":3},{"c":6,"r":2,"x":16,"y":4},{"c":6,"r":2,"x":20,"y":3},{"c":6,"r":2,"x":24,"y":4},{"c":6,"r":2,"x":28,"y":2},{"c":6,"r":2,"x":32,"y":3},{"c":6,"r":2,"x":36,"y":4},{"c":6,"r":2,"x":40,"y":3},{"c":6,"r":2,"x":44,"y":4},{"c":6,"r":2,"x":46,"y":5},{"c":6,"r":2,"x":47,"y":6},{"c":6,"r":2,"x":48,"y":9},{"c":6,"r":2,"x":48.8,"y":28},{"c":6,"r":2,"x":49.3,"y":65},{"c":6,"r":2,"x":49.7,"y":94},{"c":6,"r":2,"x":50,"y":100},{"c":6,"r":2,"x":50.3,"y":90},{"c":6,"r":2,"x":50.7,"y":55},{"c":6,"r":2,"x":51.2,"y":20},{"c":6,"r":2,"x":52,"y":6},{"c":6,"r":2,"x":53,"y":3},{"c":6,"r":2,"x":56,"y":2},{"c":6,"r":2,"x":60,"y":3},{"c":6,"r":2,"x":64,"y":1},{"c":6,"r":2,"x":68,"y":2},{"c":6,"r":2,"x":72,"y":0},{"c":6,"r":2,"x":76,"y":2},{"c":6,"r":2,"x":80,"y":1},{"c":6,"r":2,"x":84,"y":3},{"c":6,"r":2,"x":88,"y":2},{"c":6,"r":2,"x":92,"y":3},{"c":6,"r":2,"x":96,"y":4},{"c":6,"r":2,"x":100,"y":5},
{"c":7,"r":2,"x":0,"y":12},{"c":7,"r":2,"x":2,"y":6},{"c":7,"r":2,"x":4,"y":14},{"c":7,"r":2,"x":6,"y":8},{"c":7,"r":2,"x":8,"y":13},{"c":7,"r":2,"x":10,"y":5},{"c":7,"r":2,"x":12,"y":12},{"c":7,"r":2,"x":14,"y":9},{"c":7,"r":2,"x":16,"y":15},{"c":7,"r":2,"x":18,"y":7},{"c":7,"r":2,"x":20,"y":13},{"c":7,"r":2,"x":22,"y":10},{"c":7,"r":2,"x":24,"y":14},{"c":7,"r":2,"x":26,"y":6},{"c":7,"r":2,"x":28,"y":12},{"c":7,"r":2,"x":30,"y":10},{"c":7,"r":2,"x":31,"y":18},{"c":7,"r":2,"x":32,"y":12},{"c":7,"r":2,"x":34,"y":8},{"c":7,"r":2,"x":36,"y":13},{"c":7,"r":2,"x":38,"y":9},{"c":7,"r":2,"x":40,"y":15},{"c":7,"r":2,"x":42,"y":20},{"c":7,"r":2,"x":43,"y":14},{"c":7,"r":2,"x":44,"y":18},{"c":7,"r":2,"x":45,"y":12},{"c":7,"r":2,"x":46,"y":20},{"c":7,"r":2,"x":47,"y":15},{"c":7,"r":2,"x":48,"y":12},{"c":7,"r":2,"x":48.8,"y":30},{"c":7,"r":2,"x":49.3,"y":65},{"c":7,"r":2,"x":49.7,"y":93},{"c":7,"r":2,"x":50,"y":100},{"c":7,"r":2,"x":50.3,"y":90},{"c":7,"r":2,"x":50.7,"y":50},{"c":7,"r":2,"x":51.2,"y":15},{"c":7,"r":2,"x":52,"y":2},{"c":7,"r":2,"x":53,"y":8},{"c":7,"r":2,"x":54,"y":4},{"c":7,"r":2,"x":56,"y":9},{"c":7,"r":2,"x":58,"y":3},{"c":7,"r":2,"x":60,"y":8},{"c":7,"r":2,"x":62,"y":5},{"c":7,"r":2,"x":64,"y":10},{"c":7,"r":2,"x":66,"y":3},{"c":7,"r":2,"x":68,"y":9},{"c":7,"r":2,"x":70,"y":6},{"c":7,"r":2,"x":72,"y":10},{"c":7,"r":2,"x":74,"y":0},{"c":7,"r":2,"x":76,"y":8},{"c":7,"r":2,"x":78,"y":5},{"c":7,"r":2,"x":80,"y":11},{"c":7,"r":2,"x":82,"y":4},{"c":7,"r":2,"x":84,"y":9},{"c":7,"r":2,"x":86,"y":6},{"c":7,"r":2,"x":88,"y":12},{"c":7,"r":2,"x":90,"y":5},{"c":7,"r":2,"x":92,"y":10},{"c":7,"r":2,"x":94,"y":7},{"c":7,"r":2,"x":96,"y":13},{"c":7,"r":2,"x":98,"y":9},{"c":7,"r":2,"x":100,"y":16},
{"c":8,"r":2,"x":0,"y":28},{"c":8,"r":2,"x":2,"y":16},{"c":8,"r":2,"x":4,"y":32},{"c":8,"r":2,"x":6,"y":20},{"c":8,"r":2,"x":8,"y":30},{"c":8,"r":2,"x":10,"y":14},{"c":8,"r":2,"x":12,"y":27},{"c":8,"r":2,"x":14,"y":22},{"c":8,"r":2,"x":16,"y":33},{"c":8,"r":2,"x":18,"y":17},{"c":8,"r":2,"x":20,"y":29},{"c":8,"r":2,"x":22,"y":21},{"c":8,"r":2,"x":24,"y":31},{"c":8,"r":2,"x":26,"y":15},{"c":8,"r":2,"x":28,"y":27},{"c":8,"r":2,"x":30,"y":22},{"c":8,"r":2,"x":32,"y":30},{"c":8,"r":2,"x":34,"y":16},{"c":8,"r":2,"x":36,"y":26},{"c":8,"r":2,"x":38,"y":20},{"c":8,"r":2,"x":40,"y":28},{"c":8,"r":2,"x":42,"y":12},{"c":8,"r":2,"x":43,"y":8},{"c":8,"r":2,"x":44,"y":0},{"c":8,"r":2,"x":45,"y":10},{"c":8,"r":2,"x":46,"y":20},{"c":8,"r":2,"x":47,"y":30},{"c":8,"r":2,"x":48,"y":24},{"c":8,"r":2,"x":48.8,"y":42},{"c":8,"r":2,"x":49.3,"y":72},{"c":8,"r":2,"x":49.7,"y":95},{"c":8,"r":2,"x":50,"y":100},{"c":8,"r":2,"x":50.3,"y":85},{"c":8,"r":2,"x":50.7,"y":45},{"c":8,"r":2,"x":51.3,"y":15},{"c":8,"r":2,"x":52,"y":8},{"c":8,"r":2,"x":53,"y":18},{"c":8,"r":2,"x":54,"y":10},{"c":8,"r":2,"x":55,"y":15},{"c":8,"r":2,"x":56,"y":22},{"c":8,"r":2,"x":57,"y":35},{"c":8,"r":2,"x":57.8,"y":50},{"c":8,"r":2,"x":58.4,"y":45},{"c":8,"r":2,"x":59,"y":25},{"c":8,"r":2,"x":60,"y":10},{"c":8,"r":2,"x":61,"y":20},{"c":8,"r":2,"x":62,"y":32},{"c":8,"r":2,"x":64,"y":18},{"c":8,"r":2,"x":66,"y":30},{"c":8,"r":2,"x":68,"y":22},{"c":8,"r":2,"x":70,"y":34},{"c":8,"r":2,"x":72,"y":17},{"c":8,"r":2,"x":74,"y":29},{"c":8,"r":2,"x":76,"y":21},{"c":8,"r":2,"x":78,"y":33},{"c":8,"r":2,"x":80,"y":16},{"c":8,"r":2,"x":82,"y":28},{"c":8,"r":2,"x":84,"y":20},{"c":8,"r":2,"x":86,"y":32},{"c":8,"r":2,"x":88,"y":18},{"c":8,"r":2,"x":90,"y":30},{"c":8,"r":2,"x":92,"y":24},{"c":8,"r":2,"x":94,"y":34},{"c":8,"r":2,"x":96,"y":19},{"c":8,"r":2,"x":98,"y":31},{"c":8,"r":2,"x":100,"y":25},
{"c":9,"r":2,"x":0,"y":30},{"c":9,"r":2,"x":2,"y":18},{"c":9,"r":2,"x":4,"y":32},{"c":9,"r":2,"x":6,"y":20},{"c":9,"r":2,"x":8,"y":28},{"c":9,"r":2,"x":10,"y":15},{"c":9,"r":2,"x":12,"y":30},{"c":9,"r":2,"x":14,"y":19},{"c":9,"r":2,"x":16,"y":26},{"c":9,"r":2,"x":18,"y":13},{"c":9,"r":2,"x":20,"y":28},{"c":9,"r":2,"x":22,"y":17},{"c":9,"r":2,"x":24,"y":25},{"c":9,"r":2,"x":26,"y":12},{"c":9,"r":2,"x":28,"y":27},{"c":9,"r":2,"x":30,"y":16},{"c":9,"r":2,"x":32,"y":24},{"c":9,"r":2,"x":34,"y":11},{"c":9,"r":2,"x":36,"y":25},{"c":9,"r":2,"x":38,"y":15},{"c":9,"r":2,"x":40,"y":22},{"c":9,"r":2,"x":42,"y":10},{"c":9,"r":2,"x":44,"y":20},{"c":9,"r":2,"x":45,"y":14},{"c":9,"r":2,"x":46,"y":8},{"c":9,"r":2,"x":47,"y":2},{"c":9,"r":2,"x":47.8,"y":20},{"c":9,"r":2,"x":48.4,"y":45},{"c":9,"r":2,"x":48.9,"y":80},{"c":9,"r":2,"x":49.3,"y":100},{"c":9,"r":2,"x":49.7,"y":82},{"c":9,"r":2,"x":50.2,"y":50},{"c":9,"r":2,"x":50.8,"y":22},{"c":9,"r":2,"x":51.5,"y":8},{"c":9,"r":2,"x":52.2,"y":0},{"c":9,"r":2,"x":53,"y":12},{"c":9,"r":2,"x":54,"y":22},{"c":9,"r":2,"x":56,"y":14},{"c":9,"r":2,"x":58,"y":24},{"c":9,"r":2,"x":60,"y":15},{"c":9,"r":2,"x":62,"y":26},{"c":9,"r":2,"x":64,"y":13},{"c":9,"r":2,"x":66,"y":27},{"c":9,"r":2,"x":68,"y":18},{"c":9,"r":2,"x":70,"y":29},{"c":9,"r":2,"x":72,"y":16},{"c":9,"r":2,"x":74,"y":28},{"c":9,"r":2,"x":76,"y":20},{"c":9,"r":2,"x":78,"y":31},{"c":9,"r":2,"x":80,"y":17},{"c":9,"r":2,"x":82,"y":29},{"c":9,"r":2,"x":84,"y":22},{"c":9,"r":2,"x":86,"y":32},{"c":9,"r":2,"x":88,"y":19},{"c":9,"r":2,"x":90,"y":30},{"c":9,"r":2,"x":92,"y":24},{"c":9,"r":2,"x":94,"y":34},{"c":9,"r":2,"x":96,"y":21},{"c":9,"r":2,"x":98,"y":33},{"c":9,"r":2,"x":100,"y":28},
{"c":1,"r":3,"x":0,"y":58},{"c":1,"r":3,"x":1,"y":25},{"c":1,"r":3,"x":2,"y":50},{"c":1,"r":3,"x":3,"y":15},{"c":1,"r":3,"x":4,"y":45},{"c":1,"r":3,"x":5,"y":30},{"c":1,"r":3,"x":6,"y":55},{"c":1,"r":3,"x":7,"y":12},{"c":1,"r":3,"x":8,"y":40},{"c":1,"r":3,"x":9,"y":22},{"c":1,"r":3,"x":10,"y":48},{"c":1,"r":3,"x":11,"y":8},{"c":1,"r":3,"x":12,"y":35},{"c":1,"r":3,"x":13,"y":20},{"c":1,"r":3,"x":14,"y":44},{"c":1,"r":3,"x":15,"y":5},{"c":1,"r":3,"x":16,"y":38},{"c":1,"r":3,"x":17,"y":18},{"c":1,"r":3,"x":18,"y":42},{"c":1,"r":3,"x":19,"y":10},{"c":1,"r":3,"x":20,"y":30},{"c":1,"r":3,"x":21,"y":2},{"c":1,"r":3,"x":22,"y":36},{"c":1,"r":3,"x":23,"y":14},{"c":1,"r":3,"x":24,"y":40},{"c":1,"r":3,"x":25,"y":6},{"c":1,"r":3,"x":26,"y":33},{"c":1,"r":3,"x":27,"y":17},{"c":1,"r":3,"x":28,"y":45},{"c":1,"r":3,"x":29,"y":10},{"c":1,"r":3,"x":30,"y":28},{"c":1,"r":3,"x":31,"y":0},{"c":1,"r":3,"x":32,"y":35},{"c":1,"r":3,"x":33,"y":15},{"c":1,"r":3,"x":34,"y":42},{"c":1,"r":3,"x":35,"y":8},{"c":1,"r":3,"x":36,"y":30},{"c":1,"r":3,"x":37,"y":20},{"c":1,"r":3,"x":38,"y":48},{"c":1,"r":3,"x":39,"y":12},{"c":1,"r":3,"x":40,"y":38},{"c":1,"r":3,"x":41,"y":25},{"c":1,"r":3,"x":42,"y":52},{"c":1,"r":3,"x":43,"y":18},{"c":1,"r":3,"x":44,"y":40},{"c":1,"r":3,"x":45,"y":28},{"c":1,"r":3,"x":46,"y":55},{"c":1,"r":3,"x":47,"y":30},{"c":1,"r":3,"x":48,"y":62},{"c":1,"r":3,"x":49,"y":45},{"c":1,"r":3,"x":49.6,"y":80},{"c":1,"r":3,"x":50,"y":100},{"c":1,"r":3,"x":50.4,"y":70},{"c":1,"r":3,"x":51,"y":40},{"c":1,"r":3,"x":52,"y":60},{"c":1,"r":3,"x":53,"y":22},{"c":1,"r":3,"x":54,"y":50},{"c":1,"r":3,"x":55,"y":15},{"c":1,"r":3,"x":56,"y":45},{"c":1,"r":3,"x":57,"y":28},{"c":1,"r":3,"x":58,"y":58},{"c":1,"r":3,"x":59,"y":20},{"c":1,"r":3,"x":60,"y":52},{"c":1,"r":3,"x":61,"y":10},{"c":1,"r":3,"x":62,"y":48},{"c":1,"r":3,"x":63,"y":30},{"c":1,"r":3,"x":64,"y":62},{"c":1,"r":3,"x":65,"y":22},{"c":1,"r":3,"x":66,"y":55},{"c":1,"r":3,"x":67,"y":35},{"c":1,"r":3,"x":68,"y":66},{"c":1,"r":3,"x":69,"y":25},{"c":1,"r":3,"x":70,"y":50},{"c":1,"r":3,"x":71,"y":18},{"c":1,"r":3,"x":72,"y":60},{"c":1,"r":3,"x":73,"y":32},{"c":1,"r":3,"x":74,"y":55},{"c":1,"r":3,"x":75,"y":12},{"c":1,"r":3,"x":76,"y":48},{"c":1,"r":3,"x":77,"y":38},{"c":1,"r":3,"x":78,"y":64},{"c":1,"r":3,"x":79,"y":24},{"c":1,"r":3,"x":80,"y":52},{"c":1,"r":3,"x":81,"y":15},{"c":1,"r":3,"x":82,"y":58},{"c":1,"r":3,"x":83,"y":30},{"c":1,"r":3,"x":84,"y":62},{"c":1,"r":3,"x":85,"y":20},{"c":1,"r":3,"x":86,"y":50},{"c":1,"r":3,"x":87,"y":35},{"c":1,"r":3,"x":88,"y":60},{"c":1,"r":3,"x":89,"y":18},{"c":1,"r":3,"x":90,"y":48},{"c":1,"r":3,"x":91,"y":28},{"c":1,"r":3,"x":92,"y":56},{"c":1,"r":3,"x":93,"y":22},{"c":1,"r":3,"x":94,"y":45},{"c":1,"r":3,"x":95,"y":10},{"c":1,"r":3,"x":96,"y":52},{"c":1,"r":3,"x":97,"y":30},{"c":1,"r":3,"x":98,"y":55},{"c":1,"r":3,"x":99,"y":25},{"c":1,"r":3,"x":100,"y":48},
{"c":2,"r":3,"x":0,"y":35},{"c":2,"r":3,"x":1,"y":15},{"c":2,"r":3,"x":2,"y":40},{"c":2,"r":3,"x":3,"y":20},{"c":2,"r":3,"x":4,"y":30},{"c":2,"r":3,"x":5,"y":8},{"c":2,"r":3,"x":6,"y":38},{"c":2,"r":3,"x":7,"y":18},{"c":2,"r":3,"x":8,"y":28},{"c":2,"r":3,"x":9,"y":5},{"c":2,"r":3,"x":10,"y":32},{"c":2,"r":3,"x":11,"y":12},{"c":2,"r":3,"x":12,"y":26},{"c":2,"r":3,"x":13,"y":3},{"c":2,"r":3,"x":14,"y":30},{"c":2,"r":3,"x":15,"y":15},{"c":2,"r":3,"x":16,"y":22},{"c":2,"r":3,"x":17,"y":0},{"c":2,"r":3,"x":18,"y":28},{"c":2,"r":3,"x":19,"y":10},{"c":2,"r":3,"x":20,"y":34},{"c":2,"r":3,"x":21,"y":14},{"c":2,"r":3,"x":22,"y":25},{"c":2,"r":3,"x":23,"y":6},{"c":2,"r":3,"x":24,"y":30},{"c":2,"r":3,"x":25,"y":18},{"c":2,"r":3,"x":26,"y":36},{"c":2,"r":3,"x":27,"y":10},{"c":2,"r":3,"x":28,"y":28},{"c":2,"r":3,"x":29,"y":20},{"c":2,"r":3,"x":30,"y":40},{"c":2,"r":3,"x":31,"y":12},{"c":2,"r":3,"x":32,"y":30},{"c":2,"r":3,"x":33,"y":22},{"c":2,"r":3,"x":34,"y":38},{"c":2,"r":3,"x":35,"y":8},{"c":2,"r":3,"x":36,"y":32},{"c":2,"r":3,"x":37,"y":18},{"c":2,"r":3,"x":38,"y":42},{"c":2,"r":3,"x":39,"y":14},{"c":2,"r":3,"x":40,"y":30},{"c":2,"r":3,"x":41,"y":22},{"c":2,"r":3,"x":42,"y":36},{"c":2,"r":3,"x":43,"y":10},{"c":2,"r":3,"x":44,"y":34},{"c":2,"r":3,"x":45,"y":25},{"c":2,"r":3,"x":46,"y":40},{"c":2,"r":3,"x":47,"y":20},{"c":2,"r":3,"x":48,"y":38},{"c":2,"r":3,"x":49,"y":45},{"c":2,"r":3,"x":49.6,"y":70},{"c":2,"r":3,"x":50,"y":100},{"c":2,"r":3,"x":50.4,"y":60},{"c":2,"r":3,"x":51,"y":30},{"c":2,"r":3,"x":52,"y":42},{"c":2,"r":3,"x":53,"y":16},{"c":2,"r":3,"x":54,"y":38},{"c":2,"r":3,"x":55,"y":24},{"c":2,"r":3,"x":56,"y":46},{"c":2,"r":3,"x":57,"y":18},{"c":2,"r":3,"x":58,"y":40},{"c":2,"r":3,"x":59,"y":26},{"c":2,"r":3,"x":60,"y":44},{"c":2,"r":3,"x":61,"y":15},{"c":2,"r":3,"x":62,"y":36},{"c":2,"r":3,"x":63,"y":22},{"c":2,"r":3,"x":64,"y":45},{"c":2,"r":3,"x":65,"y":12},{"c":2,"r":3,"x":66,"y":34},{"c":2,"r":3,"x":67,"y":20},{"c":2,"r":3,"x":68,"y":40},{"c":2,"r":3,"x":69,"y":10},{"c":2,"r":3,"x":70,"y":30},{"c":2,"r":3,"x":71,"y":18},{"c":2,"r":3,"x":72,"y":38},{"c":2,"r":3,"x":73,"y":8},{"c":2,"r":3,"x":74,"y":32},{"c":2,"r":3,"x":75,"y":16},{"c":2,"r":3,"x":76,"y":36},{"c":2,"r":3,"x":77,"y":12},{"c":2,"r":3,"x":78,"y":30},{"c":2,"r":3,"x":79,"y":20},{"c":2,"r":3,"x":80,"y":40},{"c":2,"r":3,"x":81,"y":14},{"c":2,"r":3,"x":82,"y":34},{"c":2,"r":3,"x":83,"y":6},{"c":2,"r":3,"x":84,"y":28},{"c":2,"r":3,"x":85,"y":18},{"c":2,"r":3,"x":86,"y":38},{"c":2,"r":3,"x":87,"y":10},{"c":2,"r":3,"x":88,"y":32},{"c":2,"r":3,"x":89,"y":22},{"c":2,"r":3,"x":90,"y":40},{"c":2,"r":3,"x":91,"y":15},{"c":2,"r":3,"x":92,"y":35},{"c":2,"r":3,"x":93,"y":8},{"c":2,"r":3,"x":94,"y":30},{"c":2,"r":3,"x":95,"y":20},{"c":2,"r":3,"x":96,"y":42},{"c":2,"r":3,"x":97,"y":14},{"c":2,"r":3,"x":98,"y":34},{"c":2,"r":3,"x":99,"y":24},{"c":2,"r":3,"x":100,"y":36},
{"c":4,"r":3,"x":0,"y":60},{"c":4,"r":3,"x":1,"y":78},{"c":4,"r":3,"x":2,"y":30},{"c":4,"r":3,"x":3,"y":55},{"c":4,"r":3,"x":4,"y":12},{"c":4,"r":3,"x":5,"y":48},{"c":4,"r":3,"x":6,"y":25},{"c":4,"r":3,"x":7,"y":62},{"c":4,"r":3,"x":8,"y":20},{"c":4,"r":3,"x":9,"y":50},{"c":4,"r":3,"x":10,"y":0},{"c":4,"r":3,"x":11,"y":45},{"c":4,"r":3,"x":12,"y":28},{"c":4,"r":3,"x":13,"y":60},{"c":4,"r":3,"x":14,"y":18},{"c":4,"r":3,"x":15,"y":52},{"c":4,"r":3,"x":16,"y":34},{"c":4,"r":3,"x":17,"y":65},{"c":4,"r":3,"x":18,"y":22},{"c":4,"r":3,"x":19,"y":48},{"c":4,"r":3,"x":20,"y":10},{"c":4,"r":3,"x":21,"y":55},{"c":4,"r":3,"x":22,"y":30},{"c":4,"r":3,"x":23,"y":68},{"c":4,"r":3,"x":24,"y":25},{"c":4,"r":3,"x":25,"y":50},{"c":4,"r":3,"x":26,"y":15},{"c":4,"r":3,"x":27,"y":58},{"c":4,"r":3,"x":28,"y":35},{"c":4,"r":3,"x":29,"y":70},{"c":4,"r":3,"x":30,"y":28},{"c":4,"r":3,"x":31,"y":52},{"c":4,"r":3,"x":32,"y":12},{"c":4,"r":3,"x":33,"y":48},{"c":4,"r":3,"x":34,"y":32},{"c":4,"r":3,"x":35,"y":62},{"c":4,"r":3,"x":36,"y":20},{"c":4,"r":3,"x":37,"y":55},{"c":4,"r":3,"x":38,"y":38},{"c":4,"r":3,"x":39,"y":72},{"c":4,"r":3,"x":40,"y":25},{"c":4,"r":3,"x":41,"y":58},{"c":4,"r":3,"x":42,"y":30},{"c":4,"r":3,"x":43,"y":66},{"c":4,"r":3,"x":44,"y":18},{"c":4,"r":3,"x":45,"y":50},{"c":4,"r":3,"x":46,"y":40},{"c":4,"r":3,"x":47,"y":75},{"c":4,"r":3,"x":48,"y":35},{"c":4,"r":3,"x":49,"y":100},{"c":4,"r":3,"x":50,"y":55},{"c":4,"r":3,"x":51,"y":30},{"c":4,"r":3,"x":52,"y":62},{"c":4,"r":3,"x":53,"y":22},{"c":4,"r":3,"x":54,"y":50},{"c":4,"r":3,"x":55,"y":38},{"c":4,"r":3,"x":56,"y":70},{"c":4,"r":3,"x":57,"y":20},{"c":4,"r":3,"x":58,"y":48},{"c":4,"r":3,"x":59,"y":32},{"c":4,"r":3,"x":60,"y":64},{"c":4,"r":3,"x":61,"y":15},{"c":4,"r":3,"x":62,"y":52},{"c":4,"r":3,"x":63,"y":28},{"c":4,"r":3,"x":64,"y":66},{"c":4,"r":3,"x":65,"y":30},{"c":4,"r":3,"x":66,"y":55},{"c":4,"r":3,"x":67,"y":12},{"c":4,"r":3,"x":68,"y":45},{"c":4,"r":3,"x":69,"y":36},{"c":4,"r":3,"x":70,"y":72},{"c":4,"r":3,"x":71,"y":25},{"c":4,"r":3,"x":72,"y":58},{"c":4,"r":3,"x":73,"y":18},{"c":4,"r":3,"x":74,"y":50},{"c":4,"r":3,"x":75,"y":40},{"c":4,"r":3,"x":76,"y":75},{"c":4,"r":3,"x":77,"y":28},{"c":4,"r":3,"x":78,"y":55},{"c":4,"r":3,"x":79,"y":22},{"c":4,"r":3,"x":80,"y":62},{"c":4,"r":3,"x":81,"y":35},{"c":4,"r":3,"x":82,"y":70},{"c":4,"r":3,"x":83,"y":20},{"c":4,"r":3,"x":84,"y":48},{"c":4,"r":3,"x":85,"y":30},{"c":4,"r":3,"x":86,"y":65},{"c":4,"r":3,"x":87,"y":15},{"c":4,"r":3,"x":88,"y":52},{"c":4,"r":3,"x":89,"y":38},{"c":4,"r":3,"x":90,"y":74},{"c":4,"r":3,"x":91,"y":26},{"c":4,"r":3,"x":92,"y":56},{"c":4,"r":3,"x":93,"y":20},{"c":4,"r":3,"x":94,"y":60},{"c":4,"r":3,"x":95,"y":32},{"c":4,"r":3,"x":96,"y":72},{"c":4,"r":3,"x":97,"y":28},{"c":4,"r":3,"x":98,"y":55},{"c":4,"r":3,"x":99,"y":40},{"c":4,"r":3,"x":100,"y":76},
{"c":5,"r":3,"x":0,"y":55},{"c":5,"r":3,"x":1,"y":20},{"c":5,"r":3,"x":2,"y":62},{"c":5,"r":3,"x":3,"y":15},{"c":5,"r":3,"x":4,"y":50},{"c":5,"r":3,"x":5,"y":30},{"c":5,"r":3,"x":6,"y":68},{"c":5,"r":3,"x":7,"y":12},{"c":5,"r":3,"x":8,"y":45},{"c":5,"r":3,"x":9,"y":25},{"c":5,"r":3,"x":10,"y":60},{"c":5,"r":3,"x":11,"y":10},{"c":5,"r":3,"x":12,"y":52},{"c":5,"r":3,"x":13,"y":28},{"c":5,"r":3,"x":14,"y":66},{"c":5,"r":3,"x":15,"y":18},{"c":5,"r":3,"x":16,"y":48},{"c":5,"r":3,"x":17,"y":35},{"c":5,"r":3,"x":18,"y":70},{"c":5,"r":3,"x":19,"y":22},{"c":5,"r":3,"x":20,"y":58},{"c":5,"r":3,"x":21,"y":30},{"c":5,"r":3,"x":22,"y":75},{"c":5,"r":3,"x":23,"y":25},{"c":5,"r":3,"x":24,"y":62},{"c":5,"r":3,"x":25,"y":38},{"c":5,"r":3,"x":26,"y":80},{"c":5,"r":3,"x":27,"y":28},{"c":5,"r":3,"x":28,"y":68},{"c":5,"r":3,"x":29,"y":42},{"c":5,"r":3,"x":30,"y":85},{"c":5,"r":3,"x":31,"y":32},{"c":5,"r":3,"x":32,"y":70},{"c":5,"r":3,"x":33,"y":45},{"c":5,"r":3,"x":34,"y":88},{"c":5,"r":3,"x":35,"y":35},{"c":5,"r":3,"x":36,"y":72},{"c":5,"r":3,"x":37,"y":50},{"c":5,"r":3,"x":38,"y":90},{"c":5,"r":3,"x":39,"y":40},{"c":5,"r":3,"x":40,"y":75},{"c":5,"r":3,"x":41,"y":52},{"c":5,"r":3,"x":42,"y":92},{"c":5,"r":3,"x":43,"y":38},{"c":5,"r":3,"x":44,"y":70},{"c":5,"r":3,"x":45,"y":55},{"c":5,"r":3,"x":46,"y":88},{"c":5,"r":3,"x":47,"y":45},{"c":5,"r":3,"x":48,"y":100},{"c":5,"r":3,"x":49,"y":50},{"c":5,"r":3,"x":50,"y":80},{"c":5,"r":3,"x":51,"y":35},{"c":5,"r":3,"x":52,"y":72},{"c":5,"r":3,"x":53,"y":48},{"c":5,"r":3,"x":54,"y":85},{"c":5,"r":3,"x":55,"y":30},{"c":5,"r":3,"x":56,"y":65},{"c":5,"r":3,"x":57,"y":15},{"c":5,"r":3,"x":58,"y":55},{"c":5,"r":3,"x":59,"y":8},{"c":5,"r":3,"x":60,"y":50},{"c":5,"r":3,"x":61,"y":25},{"c":5,"r":3,"x":62,"y":67},{"c":5,"r":3,"x":63,"y":12},{"c":5,"r":3,"x":64,"y":48},{"c":5,"r":3,"x":65,"y":0},{"c":5,"r":3,"x":66,"y":58},{"c":5,"r":3,"x":67,"y":20},{"c":5,"r":3,"x":68,"y":62},{"c":5,"r":3,"x":69,"y":10},{"c":5,"r":3,"x":70,"y":45},{"c":5,"r":3,"x":71,"y":28},{"c":5,"r":3,"x":72,"y":66},{"c":5,"r":3,"x":73,"y":5},{"c":5,"r":3,"x":74,"y":52},{"c":5,"r":3,"x":75,"y":30},{"c":5,"r":3,"x":76,"y":72},{"c":5,"r":3,"x":77,"y":22},{"c":5,"r":3,"x":78,"y":60},{"c":5,"r":3,"x":79,"y":35},{"c":5,"r":3,"x":80,"y":76},{"c":5,"r":3,"x":81,"y":25},{"c":5,"r":3,"x":82,"y":55},{"c":5,"r":3,"x":83,"y":40},{"c":5,"r":3,"x":84,"y":74},{"c":5,"r":3,"x":85,"y":21},{"c":5,"r":3,"x":86,"y":58},{"c":5,"r":3,"x":87,"y":32},{"c":5,"r":3,"x":88,"y":70},{"c":5,"r":3,"x":89,"y":24},{"c":5,"r":3,"x":90,"y":52},{"c":5,"r":3,"x":91,"y":38},{"c":5,"r":3,"x":92,"y":75},{"c":5,"r":3,"x":93,"y":22},{"c":5,"r":3,"x":94,"y":60},{"c":5,"r":3,"x":95,"y":30},{"c":5,"r":3,"x":96,"y":68},{"c":5,"r":3,"x":97,"y":25},{"c":5,"r":3,"x":98,"y":55},{"c":5,"r":3,"x":99,"y":35},{"c":5,"r":3,"x":100,"y":65}
]},
"facet":{
"row":{"field":"r","type":"ordinal","title":"Observation frequency [GHz]\u2009\u2800",
"header":{"labelExpr":"['2.3','6.9','8.4','22.0'][datum.value]","labelAngle":0,"labelAlign":"left","labelBaseline":"middle","labelFont":"DejaVu Sans","labelFontWeight":"bold","labelFontSize":31,"labelColor":"black","labelPadding":23,
"titleFont":"DejaVu Sans","titleFontWeight":"bold","titleFontSize":36,"titleColor":"black","titlePadding":-6,"titleAnchor":"end"}},
"column":{"field":"c","type":"ordinal","title":"Observation date",
"header":{"labelExpr":"['2018/12/14','12/18','2019/01/07','01/09','01/21','02/15','03/04','03/31','04/23','06/12'][datum.value]","labelFont":"DejaVu Sans","labelFontWeight":"bold","labelFontSize":30,"labelColor":"black","labelPadding":25,
"titleFont":"DejaVu Sans","titleFontWeight":"bold","titleFontSize":36,"titleColor":"black","titlePadding":8}}
},
"spec":{
"width":160,"height":158,
"layer":[
{"transform":[{"filter":"!datum.t"}],
"mark":{"type":"line","color":"black","strokeWidth":2.2,"strokeJoin":"round"},
"encoding":{
"x":{"field":"x","type":"quantitative","scale":{"domain":[0,100],"nice":false,"zero":false},"axis":null},
"y":{"field":"y","type":"quantitative","scale":{"domain":[0,100],"nice":false,"zero":false},"axis":null}}},
{"transform":[{"filter":"datum.t"}],
"mark":{"type":"text","font":"Liberation Sans","fontWeight":"bold","fontSize":237,"color":"#ff0015","angle":37.5,"align":"left","baseline":"alphabetic","limit":860,"ellipsis":"\u200b"},
"encoding":{
"x":{"field":"x","type":"quantitative","scale":{"domain":[0,100],"nice":false,"zero":false},"axis":null},
"y":{"field":"y","type":"quantitative","scale":{"domain":[0,100],"nice":false,"zero":false},"axis":null},
"text":{"field":"t"}}}
]}
}
